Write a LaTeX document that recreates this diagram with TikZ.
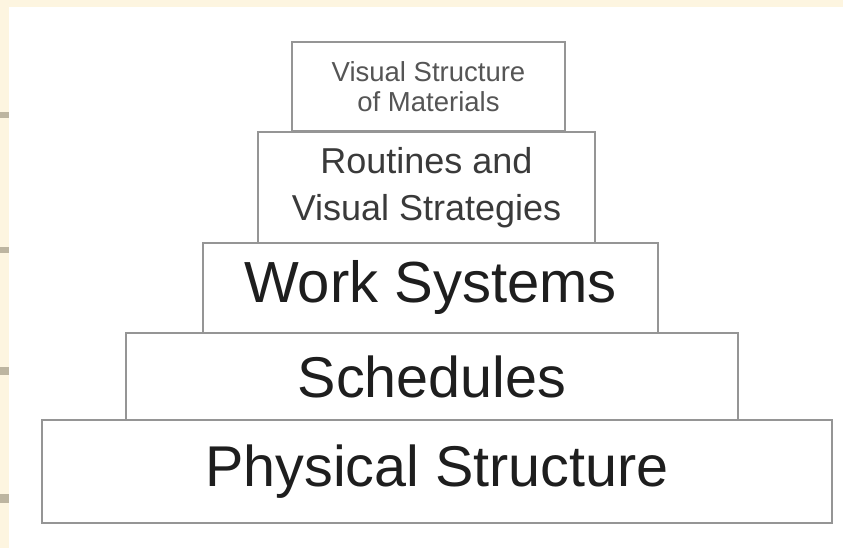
\documentclass[tikz,border=0pt]{standalone}
\usepackage{fontspec}
\setmainfont{Liberation Sans}
\definecolor{cream}{HTML}{FDF5E0}
\definecolor{tickc}{HTML}{BDB5A0}
\definecolor{edge}{HTML}{959595}
\definecolor{txtA}{HTML}{555555}
\definecolor{txtB}{HTML}{3A3A3A}
\definecolor{txtC}{HTML}{1E1E1E}
\tikzset{
  tier/.style={draw=edge, line width=2.4pt, fill=white, inner sep=0pt, align=center, anchor=center},
}
\begin{document}
\begin{tikzpicture}[x=1pt,y=1pt]
\useasboundingbox (0,0) rectangle (843,548);
\fill[cream] (0,0) rectangle (843,548);
\fill[white] (9,0) rectangle (843,541);
\foreach \ya/\yb in {112/118, 247/253, 367/375, 494/503}{
  \fill[tickc] (0,548-\yb) rectangle (9,548-\ya);
}
% tiers (y measured from top: 548 - y)
\node[tier, minimum width=790pt, minimum height=103pt, text=txtC,
  font=\fontsize{57.5}{60}\selectfont] (phys) at (437,548-471.5) {Physical Structure};
\node[tier, minimum width=612pt, minimum height=87pt, text=txtC,
  font=\fontsize{57.5}{60}\selectfont] (sched) at (432,548-376.5) {Schedules};
\node[tier, minimum width=455pt, minimum height=90pt, text=txtC,
  font=\fontsize{58}{60}\selectfont] (work) at (430.5,548-288) {Work Systems};
\node[tier, minimum width=337pt, minimum height=111pt, text=txtB,
  font=\fontsize{36}{47}\selectfont] (rout) at (426.5,548-187.5) {Routines and\\Visual Strategies};
\node[tier, minimum width=273pt, minimum height=89pt, text=txtA,
  font=\fontsize{27.5}{30}\selectfont] (vis) at (428.5,548-86.5) {Visual Structure\\of Materials};
\end{tikzpicture}
\end{document}
